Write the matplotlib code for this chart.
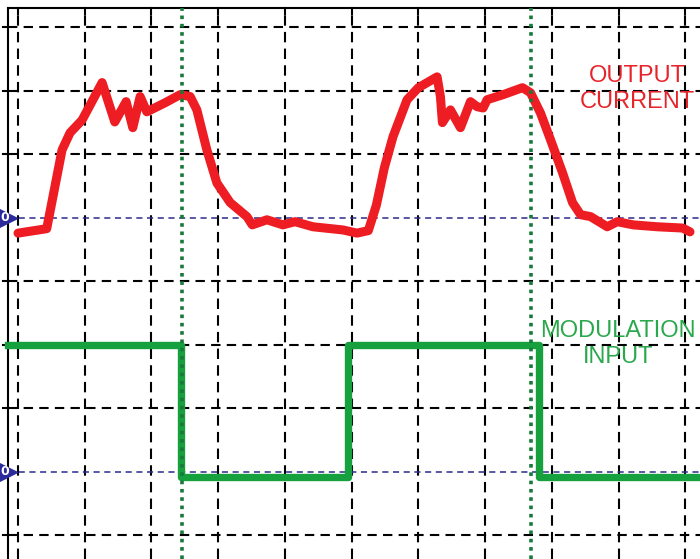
import matplotlib
matplotlib.use("Agg")
import matplotlib.pyplot as plt
import numpy as np

# trace values, in screen divisions (x: time div, y: vertical div)
current_x = [0.0, 0.43, 0.66, 0.78, 0.96, 1.26, 1.45, 1.62, 1.72, 1.83, 1.93, 2.20,
             2.43, 2.58, 2.68, 2.83, 2.98, 3.18, 3.43, 3.51, 3.73, 3.97, 4.15, 4.42,
             4.87, 5.08, 5.25, 5.37, 5.49, 5.62, 5.83, 6.00, 6.28, 6.33, 6.36, 6.48,
             6.63, 6.78, 6.88, 6.97, 7.03, 7.27, 7.56, 7.68, 7.83, 7.98, 8.16, 8.31,
             8.43, 8.58, 8.83, 8.98, 9.22, 9.58, 9.96, 10.07]
current_y = [3.76, 3.83, 5.07, 5.34, 5.54, 6.13, 5.51, 5.83, 5.42, 5.91, 5.67, 5.81,
             5.94, 5.91, 5.70, 5.07, 4.55, 4.24, 4.02, 3.89, 3.97, 3.89, 3.94, 3.86,
             3.81, 3.76, 3.80, 4.20, 4.79, 5.28, 5.86, 6.05, 6.22, 5.91, 5.50, 5.70,
             5.42, 5.83, 5.75, 5.73, 5.86, 5.94, 6.05, 5.97, 5.65, 5.23, 4.71, 4.24,
             4.05, 4.02, 3.86, 3.94, 3.89, 3.86, 3.84, 3.78]

mod_edges = [-0.15, 2.44, 4.95, 7.80, 10.4]
mod_levels = [2.0, -0.08, 2.0, -0.08]

cursor_x = [2.46, 7.68]
zero_levels = [4, 0]
grid_x = list(range(0, 11))
grid_y = [-1, 1, 2, 3, 5, 6, 7]

fig = plt.figure(figsize=(7, 5.59), dpi=100)
ax = fig.add_axes([0, 0, 1, 1])
ax.set_xlim(-0.27, 10.22)
ax.set_ylim(-1.37, 7.43)
ax.axis("off")

x_left, y_top = -0.15, 7.31

# graticule
for gx in grid_x:
    ax.plot([gx, gx], [ax.get_ylim()[0], y_top], color="black", lw=1.5,
            dashes=(5, 3), zorder=1)
    ax.plot([gx, gx], [y_top, y_top - 0.1], color="black", lw=1.5, zorder=1)
for gy in grid_y:
    ax.plot([x_left, 10.3], [gy, gy], color="black", lw=1.5,
            dashes=(4.5, 3), zorder=1)
    ax.plot([x_left - 0.08, x_left], [gy, gy], color="black", lw=1.5, zorder=1)

# frame
ax.plot([x_left, x_left], [ax.get_ylim()[0], y_top], color="black", lw=1.5, zorder=2)
ax.plot([x_left, 10.3], [y_top, y_top], color="black", lw=1.5, zorder=2)

# zero reference lines
for zy in zero_levels:
    ax.plot([x_left, 10.3], [zy, zy], color="#2b2b8c", lw=1.1, dashes=(4, 3), zorder=2)

# traces
ax.plot(current_x, current_y, color="#ee1d23", lw=6.5, solid_joinstyle="round",
        solid_capstyle="round", zorder=4)
ax.step(mod_edges, mod_levels + [mod_levels[-1]], where="post", color="#17a03e",
        lw=5.3, zorder=4)

# cursors
for cx in cursor_x:
    ax.plot([cx, cx], [ax.get_ylim()[0], y_top], color="#177a3a", lw=2.6,
            dashes=(1, 1.3), zorder=5)

# zero markers
for zy in zero_levels:
    ax.plot(-0.2, zy, marker=">", ms=17, color="#2b2b9c", zorder=6, clip_on=False)
    ax.text(-0.205, zy, "0", color="white", fontsize=9, fontweight="bold",
            ha="center", va="center", zorder=7)

ax.text(9.28, 6.03, "OUTPUT\nCURRENT", color="#e8242b", fontsize=17,
        family="Liberation Sans", ha="center", va="center", linespacing=1.25)
ax.text(8.99, 2.02, "MODULATION\nINPUT", color="#2aa84c", fontsize=17,
        family="Liberation Sans", ha="center", va="center", linespacing=1.25)

fig.savefig("out.png", dpi=100)
